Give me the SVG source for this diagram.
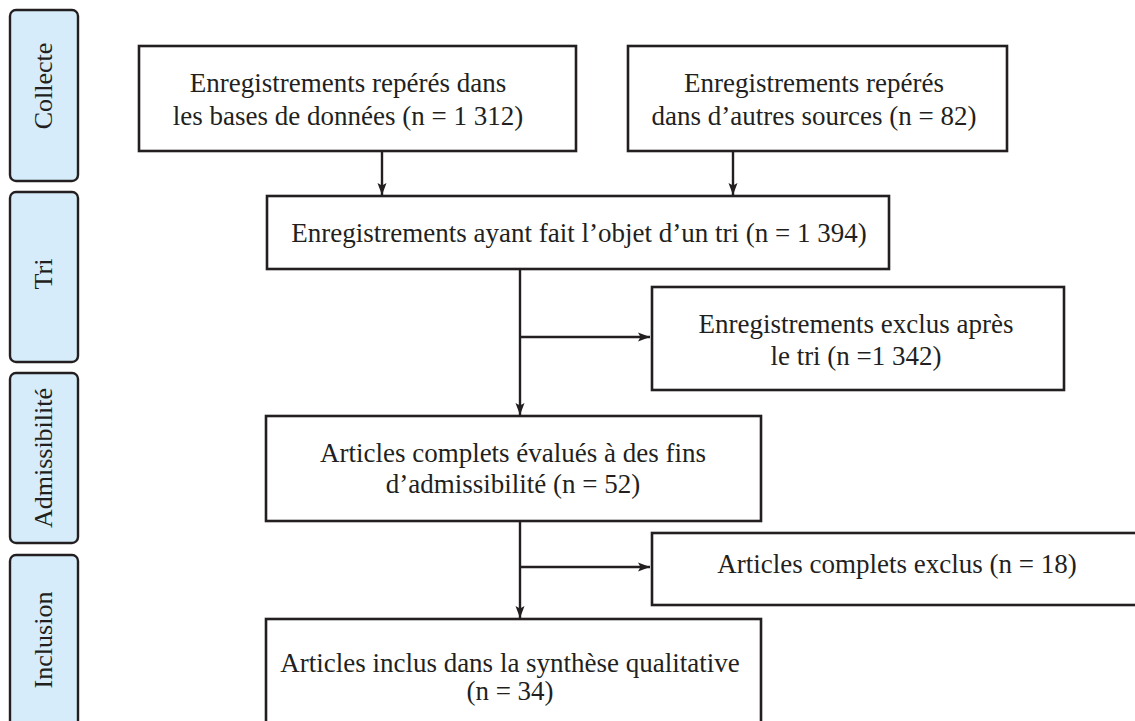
<svg xmlns="http://www.w3.org/2000/svg" width="1135" height="721" viewBox="0 0 1135 721">
<defs>
<style>
.side{fill:#d6ecfa;stroke:#231f20;stroke-width:2.4}
.box{fill:#fff;stroke:#231f20;stroke-width:2.6}
.t{font-family:"Liberation Serif","DejaVu Serif",serif;font-size:27px;fill:#231f20;text-anchor:middle}
.st{font-family:"Liberation Serif","DejaVu Serif",serif;font-size:26px;fill:#231f20;text-anchor:middle}
.c{fill:none;stroke:#231f20;stroke-width:2.4}
</style>
<marker id="ah" viewBox="0 0 12 12" refX="12" refY="6" markerWidth="12" markerHeight="12" markerUnits="userSpaceOnUse" orient="auto">
<path d="M0,1.5 L12,6 L0,10.5 L2.5,6 Z" fill="#231f20"/>
</marker>
</defs>
<rect width="1135" height="721" fill="#fff"/>
<g id="phase-collecte"><rect class="side" x="10" y="10" width="68" height="171" rx="6"/><text class="st" transform="translate(52,86) rotate(-90)">Collecte</text></g>
<g id="phase-tri"><rect class="side" x="10" y="192" width="68" height="170" rx="6"/><text class="st" transform="translate(52,274) rotate(-90)">Tri</text></g>
<g id="phase-admissibilite"><rect class="side" x="10" y="373" width="68" height="170" rx="6"/><text class="st" transform="translate(52,458) rotate(-90)">Admissibilité</text></g>
<g id="phase-inclusion"><rect class="side" x="10" y="555" width="68" height="180" rx="6"/><text class="st" transform="translate(52,640) rotate(-90)">Inclusion</text></g>
<g id="connectors">
<line class="c" x1="382" y1="151" x2="382" y2="195" marker-end="url(#ah)"/>
<line class="c" x1="733" y1="151" x2="733" y2="195" marker-end="url(#ah)"/>
<line class="c" x1="520" y1="269" x2="520" y2="415" marker-end="url(#ah)"/>
<line class="c" x1="520" y1="337" x2="650" y2="337" marker-end="url(#ah)"/>
<line class="c" x1="520" y1="521" x2="520" y2="618" marker-end="url(#ah)"/>
<line class="c" x1="520" y1="567" x2="650" y2="567" marker-end="url(#ah)"/>
</g>
<g id="n1"><rect class="box" x="139" y="46" width="437" height="105"/><text class="t" x="348" y="92">Enregistrements repérés dans</text><text class="t" x="348" y="125">les bases de données (n = 1 312)</text></g>
<g id="n2"><rect class="box" x="628" y="46" width="379" height="105"/><text class="t" x="814" y="92">Enregistrements repérés</text><text class="t" x="814" y="125">dans d’autres sources (n = 82)</text></g>
<g id="n3"><rect class="box" x="267" y="196" width="622" height="73"/><text class="t" x="579" y="242">Enregistrements ayant fait l’objet d’un tri (n = 1 394)</text></g>
<g id="n4"><rect class="box" x="652" y="287" width="412" height="103"/><text class="t" x="856" y="333">Enregistrements exclus après</text><text class="t" x="856" y="365">le tri (n =1 342)</text></g>
<g id="n5"><rect class="box" x="266" y="416" width="495" height="105"/><text class="t" x="513" y="462">Articles complets évalués à des fins</text><text class="t" x="513" y="493">d’admissibilité (n = 52)</text></g>
<g id="n6"><rect class="box" x="652" y="533" width="490" height="72"/><text class="t" x="897" y="573">Articles complets exclus (n = 18)</text></g>
<g id="n7"><rect class="box" x="266" y="619" width="495" height="120"/><text class="t" x="510" y="672">Articles inclus dans la synthèse qualitative</text><text class="t" x="510" y="700">(n = 34)</text></g>
</svg>
